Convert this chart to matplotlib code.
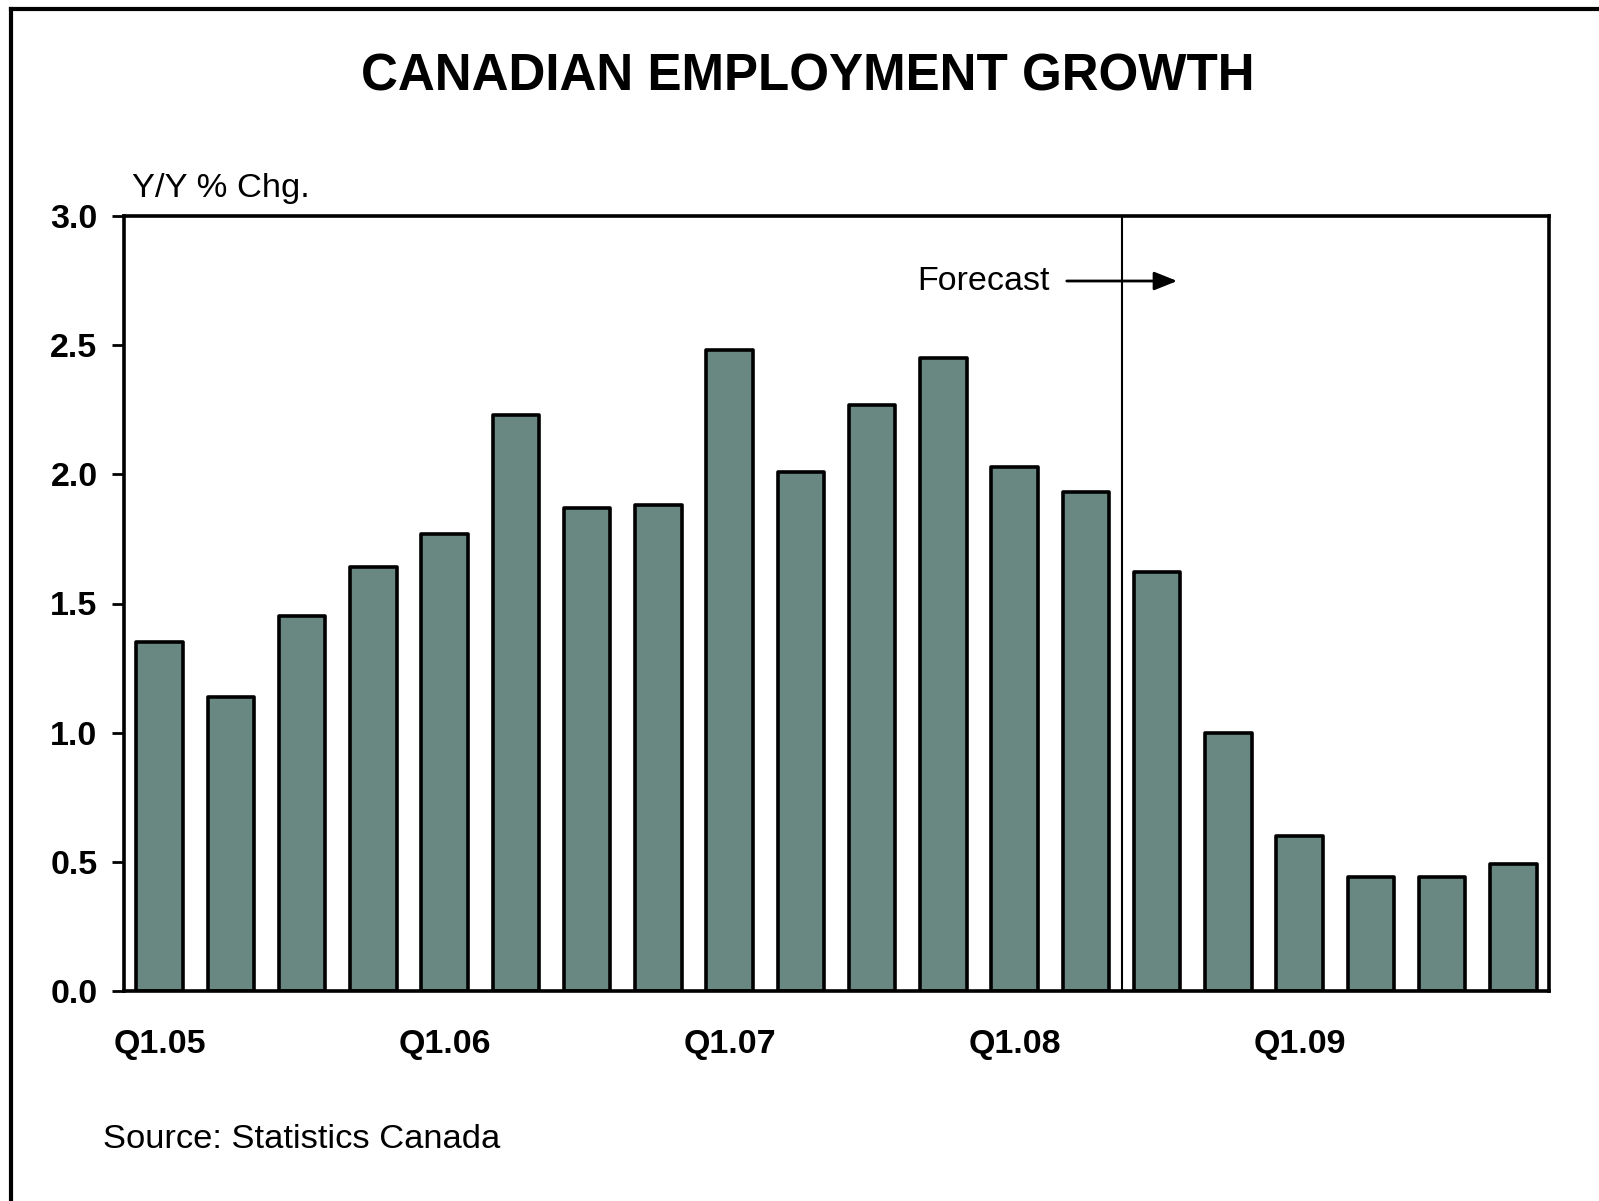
import matplotlib
matplotlib.use("Agg")
import matplotlib.pyplot as plt
from matplotlib.lines import Line2D
from matplotlib.patches import FancyArrowPatch

plt.rcParams["font.family"] = ["Liberation Sans", "DejaVu Sans"]

# -----------------------------------------------------------------------
# Data
# -----------------------------------------------------------------------
quarters = [f"Q{q}.{y:02d}" for y in range(5, 10) for q in range(1, 5)]
growth = [1.35, 1.14, 1.45, 1.64, 1.77, 2.23, 1.87, 1.88,
          2.48, 2.01, 2.27, 2.45, 2.03, 1.93, 1.62, 1.00,
          0.60, 0.44, 0.44, 0.49]
tick_labels = ["Q1.05", "Q1.06", "Q1.07", "Q1.08", "Q1.09"]
forecast_start = "Q3.08"

BAR_COLOR = "#6A8882"

W, H = 1599, 1201
fig = plt.figure(figsize=(W / 100, H / 100), dpi=100)

ax = fig.add_axes([124 / W, 1 - 991 / H, 1425 / W, 775 / H])
x = list(range(len(quarters)))
bars = ax.bar(x, growth, width=0.65, color=BAR_COLOR, edgecolor="black",
              linewidth=2.6, zorder=2)
for b in bars:
    b.set_joinstyle("round")

ax.set_xlim(-0.5, len(quarters) - 0.5)
ax.set_ylim(0, 3.0)
ax.set_yticks([0.0, 0.5, 1.0, 1.5, 2.0, 2.5, 3.0])
ax.set_yticklabels([f"{v:.1f}" for v in ax.get_yticks()],
                   fontsize=24.5, fontweight="bold")
ax.set_xticks([quarters.index(t) for t in tick_labels])
ax.set_xticklabels(tick_labels, fontsize=24.5, fontweight="bold")
ax.tick_params(axis="y", direction="out", length=8.5, width=2, pad=10.5)
ax.tick_params(axis="x", length=0, pad=27)
for s in ax.spines.values():
    s.set_linewidth(2.6)

# forecast divider and arrow
fx = quarters.index(forecast_start) - 0.5
ax.axvline(fx, color="black", lw=1.5, zorder=3)

fig.text(132 / W, 1 - 188 / H, "Y/Y % Chg.", fontsize=24.8,
         ha="left", va="center")
fig.text(917 / W, 1 - 281 / H, "Forecast", fontsize=24.5,
         ha="left", va="center")
fig.add_artist(FancyArrowPatch(
    (1064 / W, 1 - 281 / H), (1180 / W, 1 - 281 / H),
    transform=fig.transFigure, arrowstyle="-|>,head_length=0.7,head_width=0.28",
    mutation_scale=20, color="black", lw=2.0))

fig.text(808 / W, 1 - 77 / H, "CANADIAN EMPLOYMENT GROWTH", fontsize=36.8,
         fontweight="bold", ha="center", va="center")
fig.text(103 / W, 1 - 1139 / H, "Source: Statistics Canada", fontsize=24.8,
         ha="left", va="center")

# frame: top and left edges only
fig.add_artist(Line2D([11 / W, 1.0], [1 - 9 / H, 1 - 9 / H],
                      transform=fig.transFigure, color="black", lw=3))
fig.add_artist(Line2D([11 / W, 11 / W], [0.0, 1 - 9 / H],
                      transform=fig.transFigure, color="black", lw=3,
                      solid_capstyle="projecting"))

fig.savefig("out.png", dpi=100)
